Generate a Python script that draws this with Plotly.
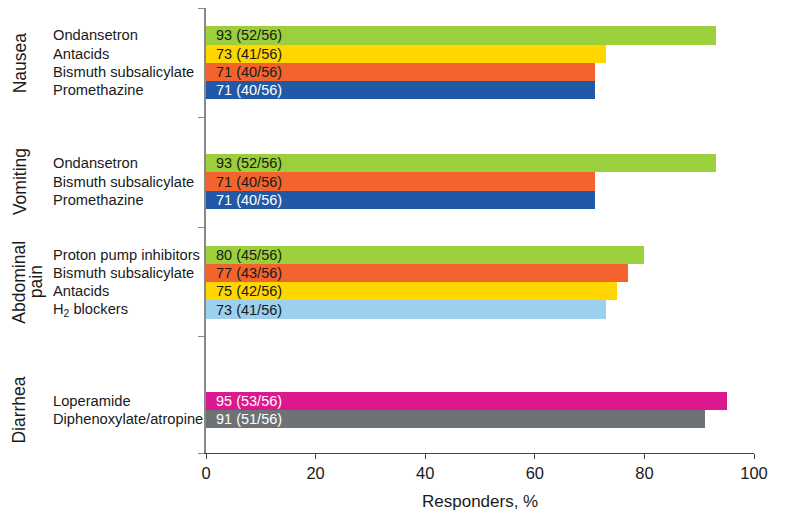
import plotly.graph_objects as go

# ---- data ----
group_names = [["Nausea"], ["Vomiting"], ["Abdominal", "pain"], ["Diarrhea"]]
group_sizes = [4, 3, 4, 2]
drugs = [
    "Ondansetron", "Antacids", "Bismuth subsalicylate", "Promethazine",
    "Ondansetron", "Bismuth subsalicylate", "Promethazine",
    "Proton pump inhibitors", "Bismuth subsalicylate", "Antacids", "H<sub>2</sub> blockers",
    "Loperamide", "Diphenoxylate/atropine",
]
pct = [93, 73, 71, 71, 93, 71, 71, 80, 77, 75, 73, 95, 91]
responders = [52, 41, 40, 40, 52, 40, 40, 45, 43, 42, 41, 53, 51]
total = 56
x_ticks = [0, 20, 40, 60, 80, 100]
x_title = "Responders, %"

# ---- styles ----
drug_color = {
    "Ondansetron": "#9BCF3C",
    "Antacids": "#FFD600",
    "Bismuth subsalicylate": "#F2632E",
    "Promethazine": "#2159A8",
    "Proton pump inhibitors": "#9BCF3C",
    "H<sub>2</sub> blockers": "#9DCFEE",
    "Loperamide": "#DC188E",
    "Diphenoxylate/atropine": "#6E7274",
}
light_text = {"Promethazine", "Loperamide", "Diphenoxylate/atropine"}
FONT = "Liberation Sans, Arial, sans-serif"
SLOTS = 6
BOTTOM_EXTRA = 0.35   # extra space below the last group
GROUP_LINE_X = [11.5, 28]  # px positions of group label lines

# slot positions (each group = 6 slots, bars bottom-aligned above one empty slot)
slots = []
group_centers = []
for g, n in enumerate(group_sizes):
    start = g * SLOTS + (SLOTS - 1 - n)
    s = [start + i for i in range(n)]
    slots.extend(s)
    group_centers.append(sum(s) / n)

colors = [drug_color[d] for d in drugs]

fig = go.Figure(go.Bar(
    x=pct, y=slots, orientation="h", width=1.0,
    marker=dict(color=colors, line=dict(width=0)),
    hoverinfo="skip",
))

W, H = 797, 517
ml, mr, mt, mb = 198, 51, 0, 72
pw = W - ml - mr
ph = H - mt - mb

ann = []
for d, p, r, s in zip(drugs, pct, responders, slots):
    ann.append(dict(x=(43 - ml) / pw, xref="paper", y=s, yref="y", text=d,
                    xanchor="left", yanchor="middle", showarrow=False,
                    font=dict(family=FONT, size=14.7, color="#1a1a1a")))
    ann.append(dict(x=0, xref="x", y=s, yref="y", xshift=8,
                    text=f"{p} ({r}/{total})",
                    xanchor="left", yanchor="middle", showarrow=False,
                    font=dict(family=FONT, size=14.5,
                              color="#ffffff" if d in light_text else "#1a1a1a")))
for lines, c in zip(group_names, group_centers):
    for li, line in enumerate(lines):
        ann.append(dict(x=(GROUP_LINE_X[li] - ml) / pw, xref="paper", y=c, yref="y",
                        text=line, textangle=-90, borderpad=0,
                        xanchor="center", yanchor="middle", showarrow=False,
                        font=dict(family=FONT, size=17.5, color="#1a1a1a")))
ann.append(dict(x=0.5, xref="paper", y=-(493 - (H - mb)) / ph, yref="paper",
                text=x_title, xanchor="center", yanchor="middle", showarrow=False,
                font=dict(family=FONT, size=17, color="#1a1a1a")))

n_slots = SLOTS * len(group_sizes)
y_bottom = n_slots - 0.5 + BOTTOM_EXTRA
fig.update_layout(
    width=W, height=H,
    margin=dict(l=ml, r=mr, t=mt, b=mb, pad=0),
    paper_bgcolor="white", plot_bgcolor="white",
    showlegend=False, bargap=0,
    font=dict(family=FONT, color="#1a1a1a"),
    annotations=ann,
    xaxis=dict(range=[0, 100], tickvals=x_ticks, ticks="outside", ticklen=5,
               tickcolor="#444", showline=True, linecolor="#444", linewidth=1,
               showgrid=False, zeroline=False,
               tickfont=dict(family=FONT, size=16.5, color="#1a1a1a")),
    yaxis=dict(range=[y_bottom, -0.5],
               tickvals=[g * SLOTS - 0.5 for g in range(len(group_sizes))] + [y_bottom],
               showticklabels=False,
               ticks="outside", ticklen=6, tickcolor="#888",
               showline=True, linecolor="#888", linewidth=1.5,
               showgrid=False, zeroline=False),
)

fig.write_html("out.html")
